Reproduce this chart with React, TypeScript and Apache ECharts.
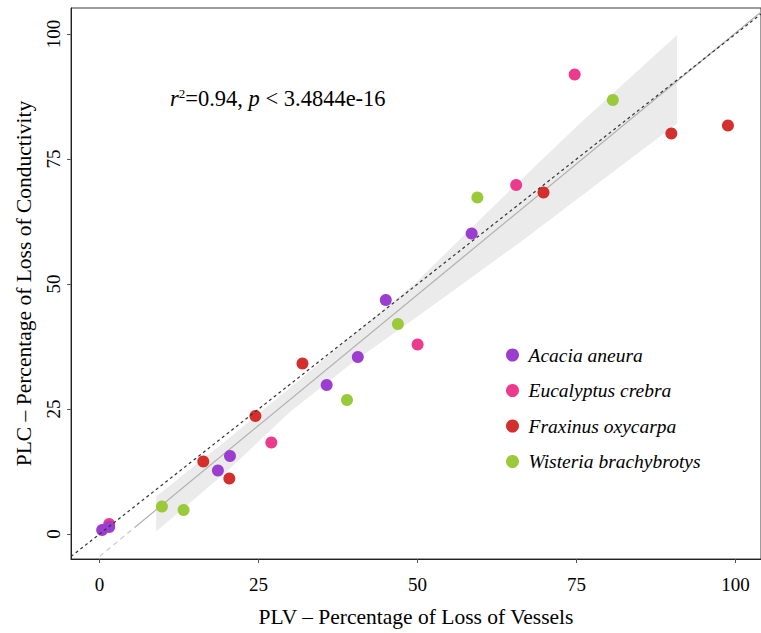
import React, { useEffect, useRef } from "react";
import * as echarts from "echarts";

// Species measurements: PLV (x) vs PLC (y), in percent
const acaciaX = [0.4, 1.5, 18.6, 20.5, 35.7, 40.6, 45.0, 58.5];
const acaciaY = [0.8, 1.4, 12.7, 15.6, 29.8, 35.4, 46.8, 60.1];
const eucalyptusX = [1.5, 27.0, 50.0, 65.5, 74.7];
const eucalyptusY = [2.0, 18.3, 37.9, 69.8, 91.9];
const fraxinusX = [16.3, 20.4, 24.5, 31.9, 69.8, 89.9, 98.8];
const fraxinusY = [14.5, 11.1, 23.6, 34.1, 68.3, 80.1, 81.7];
const wisteriaX = [9.8, 13.2, 38.9, 46.9, 59.4, 80.7];
const wisteriaY = [5.5, 4.8, 26.8, 42.0, 67.3, 86.8];

const speciesNames = [
  "Acacia aneura",
  "Eucalyptus crebra",
  "Fraxinus oxycarpa",
  "Wisteria brachybrotys",
];
const speciesColors = ["#9b3dcf", "#ec3a8c", "#d32f2c", "#9ac93a"];

// Linear fit and its confidence band
const fitExtensionX = [0, 5.5];
const fitExtensionY = [-4.5, 1.3];
const fitLineX = [5.5, 104];
const fitLineY = [1.3, 104.4];
const bandUpperX = [8.9, 20, 30, 40, 49.5, 61.9, 75, 90.8];
const bandUpperY = [7.5, 18.8, 29.3, 40.0, 50.0, 65.5, 81.5, 99.8];
const bandLowerX = [8.9, 20, 30, 40, 50, 66.6, 80, 90.8];
const bandLowerY = [0.5, 12.5, 24.5, 34.5, 43.5, 58.8, 71.7, 82.1];

// 1:1 reference line
const identityX = [-4.5, 104];
const identityY = [-4.5, 104];

const tickValues = [0, 25, 50, 75, 100];

const zip = (xs: number[], ys: number[]) => xs.map((x, i) => [x, ys[i]]);

const serif = "'Liberation Serif', 'Times New Roman', serif";

export default function App() {
  const ref = useRef<HTMLDivElement>(null);

  useEffect(() => {
    if (!ref.current) return;
    const chart = echarts.init(ref.current, null, { renderer: "svg" });

    const speciesX = [acaciaX, eucalyptusX, fraxinusX, wisteriaX];
    const speciesY = [acaciaY, eucalyptusY, fraxinusY, wisteriaY];

    const bandPoints = [
      ...zip(bandUpperX, bandUpperY),
      ...zip(bandLowerX, bandLowerY).reverse(),
    ];

    const scatterSeries = speciesNames.map((name, i) => ({
      name,
      type: "scatter",
      data: zip(speciesX[i], speciesY[i]),
      symbol: "circle",
      symbolSize: 12,
      itemStyle: { color: speciesColors[i], opacity: 1 },
      z: i === 0 ? 5 : 4,
    }));

    chart.setOption({
      animation: false,
      backgroundColor: "#ffffff",
      grid: {
        left: 71,
        top: 8,
        width: 701,
        height: 551,
        show: true,
        borderColor: "#3a3a3a",
        borderWidth: 1,
        backgroundColor: "transparent",
      },
      xAxis: {
        type: "value",
        min: -4.5,
        max: 104,
        name: "PLV – Percentage of Loss of Vessels",
        nameLocation: "middle",
        nameGap: 47,
        nameTextStyle: { fontFamily: serif, fontSize: 21.5, color: "#000" },
        axisLine: { show: true, onZero: false, lineStyle: { color: "#222", width: 1 } },
        axisTick: {
          show: true,
          length: 4,
          customValues: tickValues,
          lineStyle: { color: "#555" },
        },
        axisLabel: {
          customValues: tickValues,
          fontFamily: serif,
          fontSize: 19,
          color: "#000",
          margin: 16,
        },
        splitLine: { show: false },
      },
      yAxis: {
        type: "value",
        min: -5,
        max: 105.2,
        name: "PLC – Percentage of Loss of Conductivity",
        nameLocation: "middle",
        nameGap: 36,
        nameTextStyle: { fontFamily: serif, fontSize: 21.5, color: "#000" },
        axisLine: { show: true, onZero: false, lineStyle: { color: "#222", width: 1 } },
        axisTick: {
          show: true,
          length: 4,
          customValues: tickValues,
          lineStyle: { color: "#555" },
        },
        axisLabel: {
          customValues: tickValues,
          fontFamily: serif,
          fontSize: 19,
          color: "#000",
          rotate: 90,
          margin: 8,
        },
        splitLine: { show: false },
      },
      legend: {
        orient: "vertical",
        left: 501,
        top: 340,
        itemWidth: 22,
        itemHeight: 13,
        itemGap: 15.5,
        icon: "circle",
        data: speciesNames,
        textStyle: {
          fontFamily: serif,
          fontStyle: "italic",
          fontSize: 19.5,
          lineHeight: 20,
          color: "#000",
        },
      },
      graphic: [
        {
          type: "text",
          x: 170,
          y: 98,
          style: {
            text: "{i|r}{s|2}=0.94, {i|p} < 3.4844e-16",
            fontFamily: serif,
            fontSize: 22.5,
            fill: "#000",
            verticalAlign: "middle",
            rich: {
              i: { fontFamily: serif, fontStyle: "italic", fontSize: 22.5 },
              s: { fontFamily: serif, fontSize: 13, verticalAlign: "top", padding: [0, 0, 8, 0] },
            },
          },
        },
      ],
      series: [
        {
          name: "band",
          type: "custom",
          data: [0],
          silent: true,
          z: 1,
          renderItem: (params: any, api: any) => {
            if (params.dataIndex !== 0) return null;
            return {
              type: "polygon",
              shape: { points: bandPoints.map((p) => api.coord(p)) },
              style: { fill: "#ebebeb" },
            };
          },
        },
        {
          name: "fit-ext",
          type: "line",
          data: zip(fitExtensionX, fitExtensionY),
          symbol: "none",
          silent: true,
          z: 2,
          lineStyle: { color: "#cccccc", width: 1.2, type: [5, 4] },
        },
        {
          name: "fit",
          type: "line",
          data: zip(fitLineX, fitLineY),
          symbol: "none",
          silent: true,
          z: 2,
          lineStyle: { color: "#b0b0b0", width: 1.2 },
        },
        ...scatterSeries,
        {
          name: "identity",
          type: "line",
          data: zip(identityX, identityY),
          symbol: "none",
          silent: true,
          z: 6,
          lineStyle: { color: "#333333", width: 1.2, type: [3, 3] },
        },
      ],
    });

    return () => chart.dispose();
  }, []);

  return (
    <div
      ref={ref}
      style={{ position: "fixed", left: 0, top: 0, width: 761, height: 633, background: "#fff" }}
    />
  );
}
